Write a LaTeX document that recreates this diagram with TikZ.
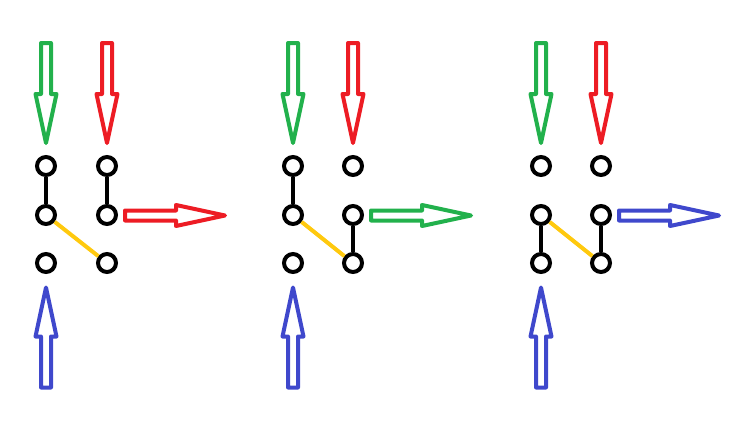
\documentclass[tikz,border=0pt]{standalone}
\definecolor{pgreen}{RGB}{34,177,76}
\definecolor{pred}{RGB}{237,28,36}
\definecolor{pblue}{RGB}{63,72,204}
\definecolor{pyellow}{RGB}{255,201,14}
\tikzset{
	contact/.style={circle,draw=black,fill=white,line width=4pt,minimum size=18pt,inner sep=0pt},
	link/.style={line width=4pt,black},
	bridge/.style={line width=4pt,pyellow},
	fatarrow/.pic={
		\draw[line width=4pt,line join=round]
			(0,-5)--(51,-5)--(51,-10.5)--(100,0)--(51,10.5)--(51,5)--(0,5)--cycle;
	}
}
\begin{document}
\begin{tikzpicture}[x=1pt,y=-1pt]
			\useasboundingbox (0,0) rectangle (738,429);
			\foreach \i/\xl/\xr/\c in {1/46/107/pred,2/293/353/pgreen,3/541/601/pblue} {
				\foreach \j/\y in {1/166,2/215,3/263} {
					\node[contact] (p\i-l\j) at (\xl,\y) {};
					\node[contact] (p\i-r\j) at (\xr,\y) {};
				}
				\pic[color=pgreen,rotate=-90] at (\xl,43) {fatarrow};
				\pic[color=pred,rotate=-90] at (\xr,43) {fatarrow};
				\pic[color=pblue,rotate=90] at (\xl,387.5) {fatarrow};
				\pic[color=\c] at ({\xr+18},215.5) {fatarrow};
			}
			% first panel
			\draw[link] (p1-l1) -- (p1-l2);
			\draw[link] (p1-r1) -- (p1-r2);
			\draw[bridge] (p1-l2) -- (p1-r3);
			% second panel
			\draw[link] (p2-l1) -- (p2-l2);
			\draw[link] (p2-r2) -- (p2-r3);
			\draw[bridge] (p2-l2) -- (p2-r3);
			% third panel
			\draw[link] (p3-l2) -- (p3-l3);
			\draw[link] (p3-r2) -- (p3-r3);
			\draw[bridge] (p3-l2) -- (p3-r3);
		\end{tikzpicture}
\end{document}
